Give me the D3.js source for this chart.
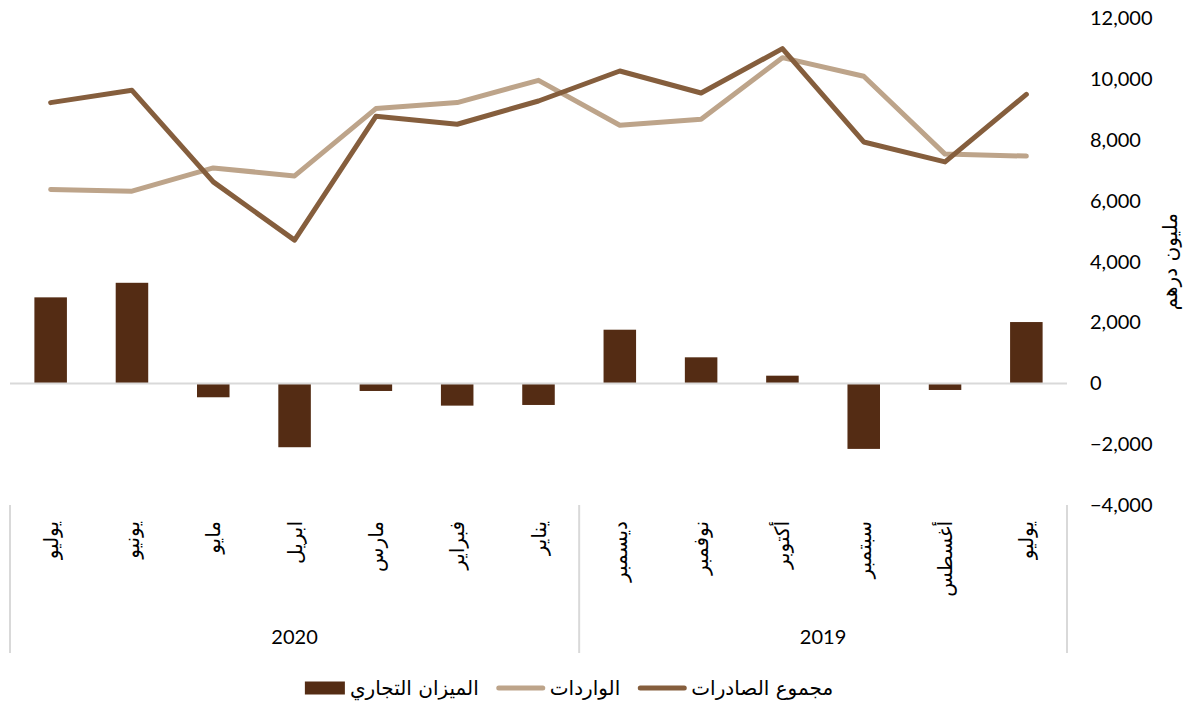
<!DOCTYPE html>
<html>
<head>
<meta charset="utf-8">
<script src="https://cdn.jsdelivr.net/npm/d3@7"></script>
<style>
  body { margin: 0; background: #fff; }
  svg { display: block; }
</style>
</head>
<body>
<div id="chart"></div>
<script>
// months in chronological order (drawn right to left)
const months = ['يوليو', 'أغسطس', 'سبتمبر', 'أكتوبر', 'نوفمبر', 'ديسمبر',
    'يناير', 'فبراير', 'مارس', 'ابريل', 'مايو', 'يونيو', 'يوليو'];
const years = ['2019', '2020'];
const yearOfMonth = ['2019', '2019', '2019', '2019', '2019', '2019',
    '2020', '2020', '2020', '2020', '2020', '2020', '2020'];

const exportsTotal = [9507, 7283, 7940, 11008, 9550, 10273, 9287, 8522, 8785, 4711, 6626, 9639, 9234];
const importsTotal = [7474, 7540, 10099, 10713, 8686, 8489, 9967, 9234, 9037, 6823, 7086, 6321, 6376];
const tradeBalance = [2017, -217, -2155, 253, 857, 1765, -710, -732, -250, -2100, -457, 3308, 2829];

const yTicks = [-4000, -2000, 0, 2000, 4000, 6000, 8000, 10000, 12000];
const yTitle = 'مليون درهم';
const seriesNames = ['الميزان التجاري', 'الواردات', 'مجموع الصادرات'];

const W = 1196, H = 704;
const arabicFont = '"DejaVu Sans", sans-serif';
const numFont = 'Lato, "Open Sans", sans-serif';

const svg = d3.select('#chart')
    .append('svg')
    .attr('width', W)
    .attr('height', H);

const idx = months.map((m, i) => i);

const x = d3.scaleBand()
    .domain(idx)
    .range([1067, 10])
    .paddingInner(0.6)
    .paddingOuter(0.3);

const y = d3.scaleLinear()
    .domain([-4000, 12000])
    .range([505, 18.5]);

const cx = i => x(i) + x.bandwidth() / 2;

// Bars
svg.selectAll('.bar')
    .data(idx)
    .enter()
    .append('rect')
    .attr('class', 'bar')
    .attr('x', i => x(i))
    .attr('width', x.bandwidth())
    .attr('y', i => y(Math.max(0, tradeBalance[i])))
    .attr('height', i => Math.abs(y(tradeBalance[i]) - y(0)))
    .attr('fill', '#542c14');

// Zero line
svg.append('line')
    .attr('x1', 10)
    .attr('x2', 1067)
    .attr('y1', y(0))
    .attr('y2', y(0))
    .attr('stroke', '#d9d9d9')
    .attr('stroke-width', 2);

// Lines
const line = values => d3.line()
    .x(i => cx(i))
    .y(i => y(values[i]))(idx);

svg.append('path')
    .attr('d', line(importsTotal))
    .attr('fill', 'none')
    .attr('stroke', '#bda48a')
    .attr('stroke-width', 5)
    .attr('stroke-linejoin', 'round')
    .attr('stroke-linecap', 'round');

svg.append('path')
    .attr('d', line(exportsTotal))
    .attr('fill', 'none')
    .attr('stroke', '#855e3d')
    .attr('stroke-width', 5)
    .attr('stroke-linejoin', 'round')
    .attr('stroke-linecap', 'round');

// Y axis on the right
const yAxis = svg.append('g')
    .attr('transform', 'translate(1087,0)')
    .call(d3.axisRight(y).tickValues(yTicks).tickSize(0).tickFormat(d3.format(',')));

yAxis.select('.domain').remove();
yAxis.selectAll('text')
    .attr('fill', '#000')
    .style('font-family', numFont)
    .style('font-size', '20px');

svg.append('text')
    .attr('transform', `translate(1170,${y(4000)}) rotate(-90)`)
    .attr('text-anchor', 'middle')
    .attr('dominant-baseline', 'central')
    .style('font-family', arabicFont)
    .style('font-size', '20px')
    .text(yTitle);

// Category axis: separators between years
const yearStart = years.map(yr => yearOfMonth.indexOf(yr));
const yearEnd = years.map(yr => yearOfMonth.lastIndexOf(yr));
const bandEdge = i => x(i) + x.bandwidth() / 2 + x.step() / 2;

const sepX = [bandEdge(yearStart[0]), ...years.map((yr, k) => bandEdge(yearEnd[k]) - x.step())];
sepX[sepX.length - 1] = 10;

svg.selectAll('.sep')
    .data(sepX)
    .enter()
    .append('line')
    .attr('class', 'sep')
    .attr('x1', d => d)
    .attr('x2', d => d)
    .attr('y1', 505)
    .attr('y2', 653)
    .attr('stroke', '#d9d9d9')
    .attr('stroke-width', 2);

// Month labels
svg.selectAll('.month')
    .data(idx)
    .enter()
    .append('text')
    .attr('class', 'month')
    .attr('transform', i => `translate(${cx(i)},521) rotate(-90)`)
    .attr('text-anchor', 'end')
    .attr('dominant-baseline', 'central')
    .style('font-family', arabicFont)
    .style('font-size', '20px')
    .text(i => months[i]);

// Year labels
svg.selectAll('.year')
    .data(years)
    .enter()
    .append('text')
    .attr('class', 'year')
    .attr('x', (yr, k) => (cx(yearStart[k]) + cx(yearEnd[k])) / 2)
    .attr('y', 636)
    .attr('text-anchor', 'middle')
    .attr('dominant-baseline', 'central')
    .style('font-family', numFont)
    .style('font-size', '20px')
    .text(d => d);

// Legend
const legendColors = ['#542c14', '#bda48a', '#855e3d'];
const legend = svg.append('g');
let lx = 0;
seriesNames.forEach((name, k) => {
    const g = legend.append('g').attr('transform', `translate(${lx},0)`);
    const symW = k === 0 ? 40 : 48;
    if (k === 0) {
        g.append('rect')
            .attr('x', 0).attr('y', -6.5)
            .attr('width', symW).attr('height', 13)
            .attr('fill', legendColors[k]);
    } else {
        g.append('line')
            .attr('x1', 2).attr('x2', symW - 2)
            .attr('y1', 0).attr('y2', 0)
            .attr('stroke', legendColors[k])
            .attr('stroke-width', 5)
            .attr('stroke-linecap', 'round');
    }
    const t = g.append('text')
        .attr('x', symW + 5)
        .attr('y', 0)
        .attr('dominant-baseline', 'central')
        .style('font-family', arabicFont)
        .style('font-size', '20px')
        .text(name);
    lx += symW + 5 + t.node().getComputedTextLength() + 18;
});
lx -= 18;
legend.attr('transform', `translate(${569 - lx / 2},688)`);
</script>
</body>
</html>
